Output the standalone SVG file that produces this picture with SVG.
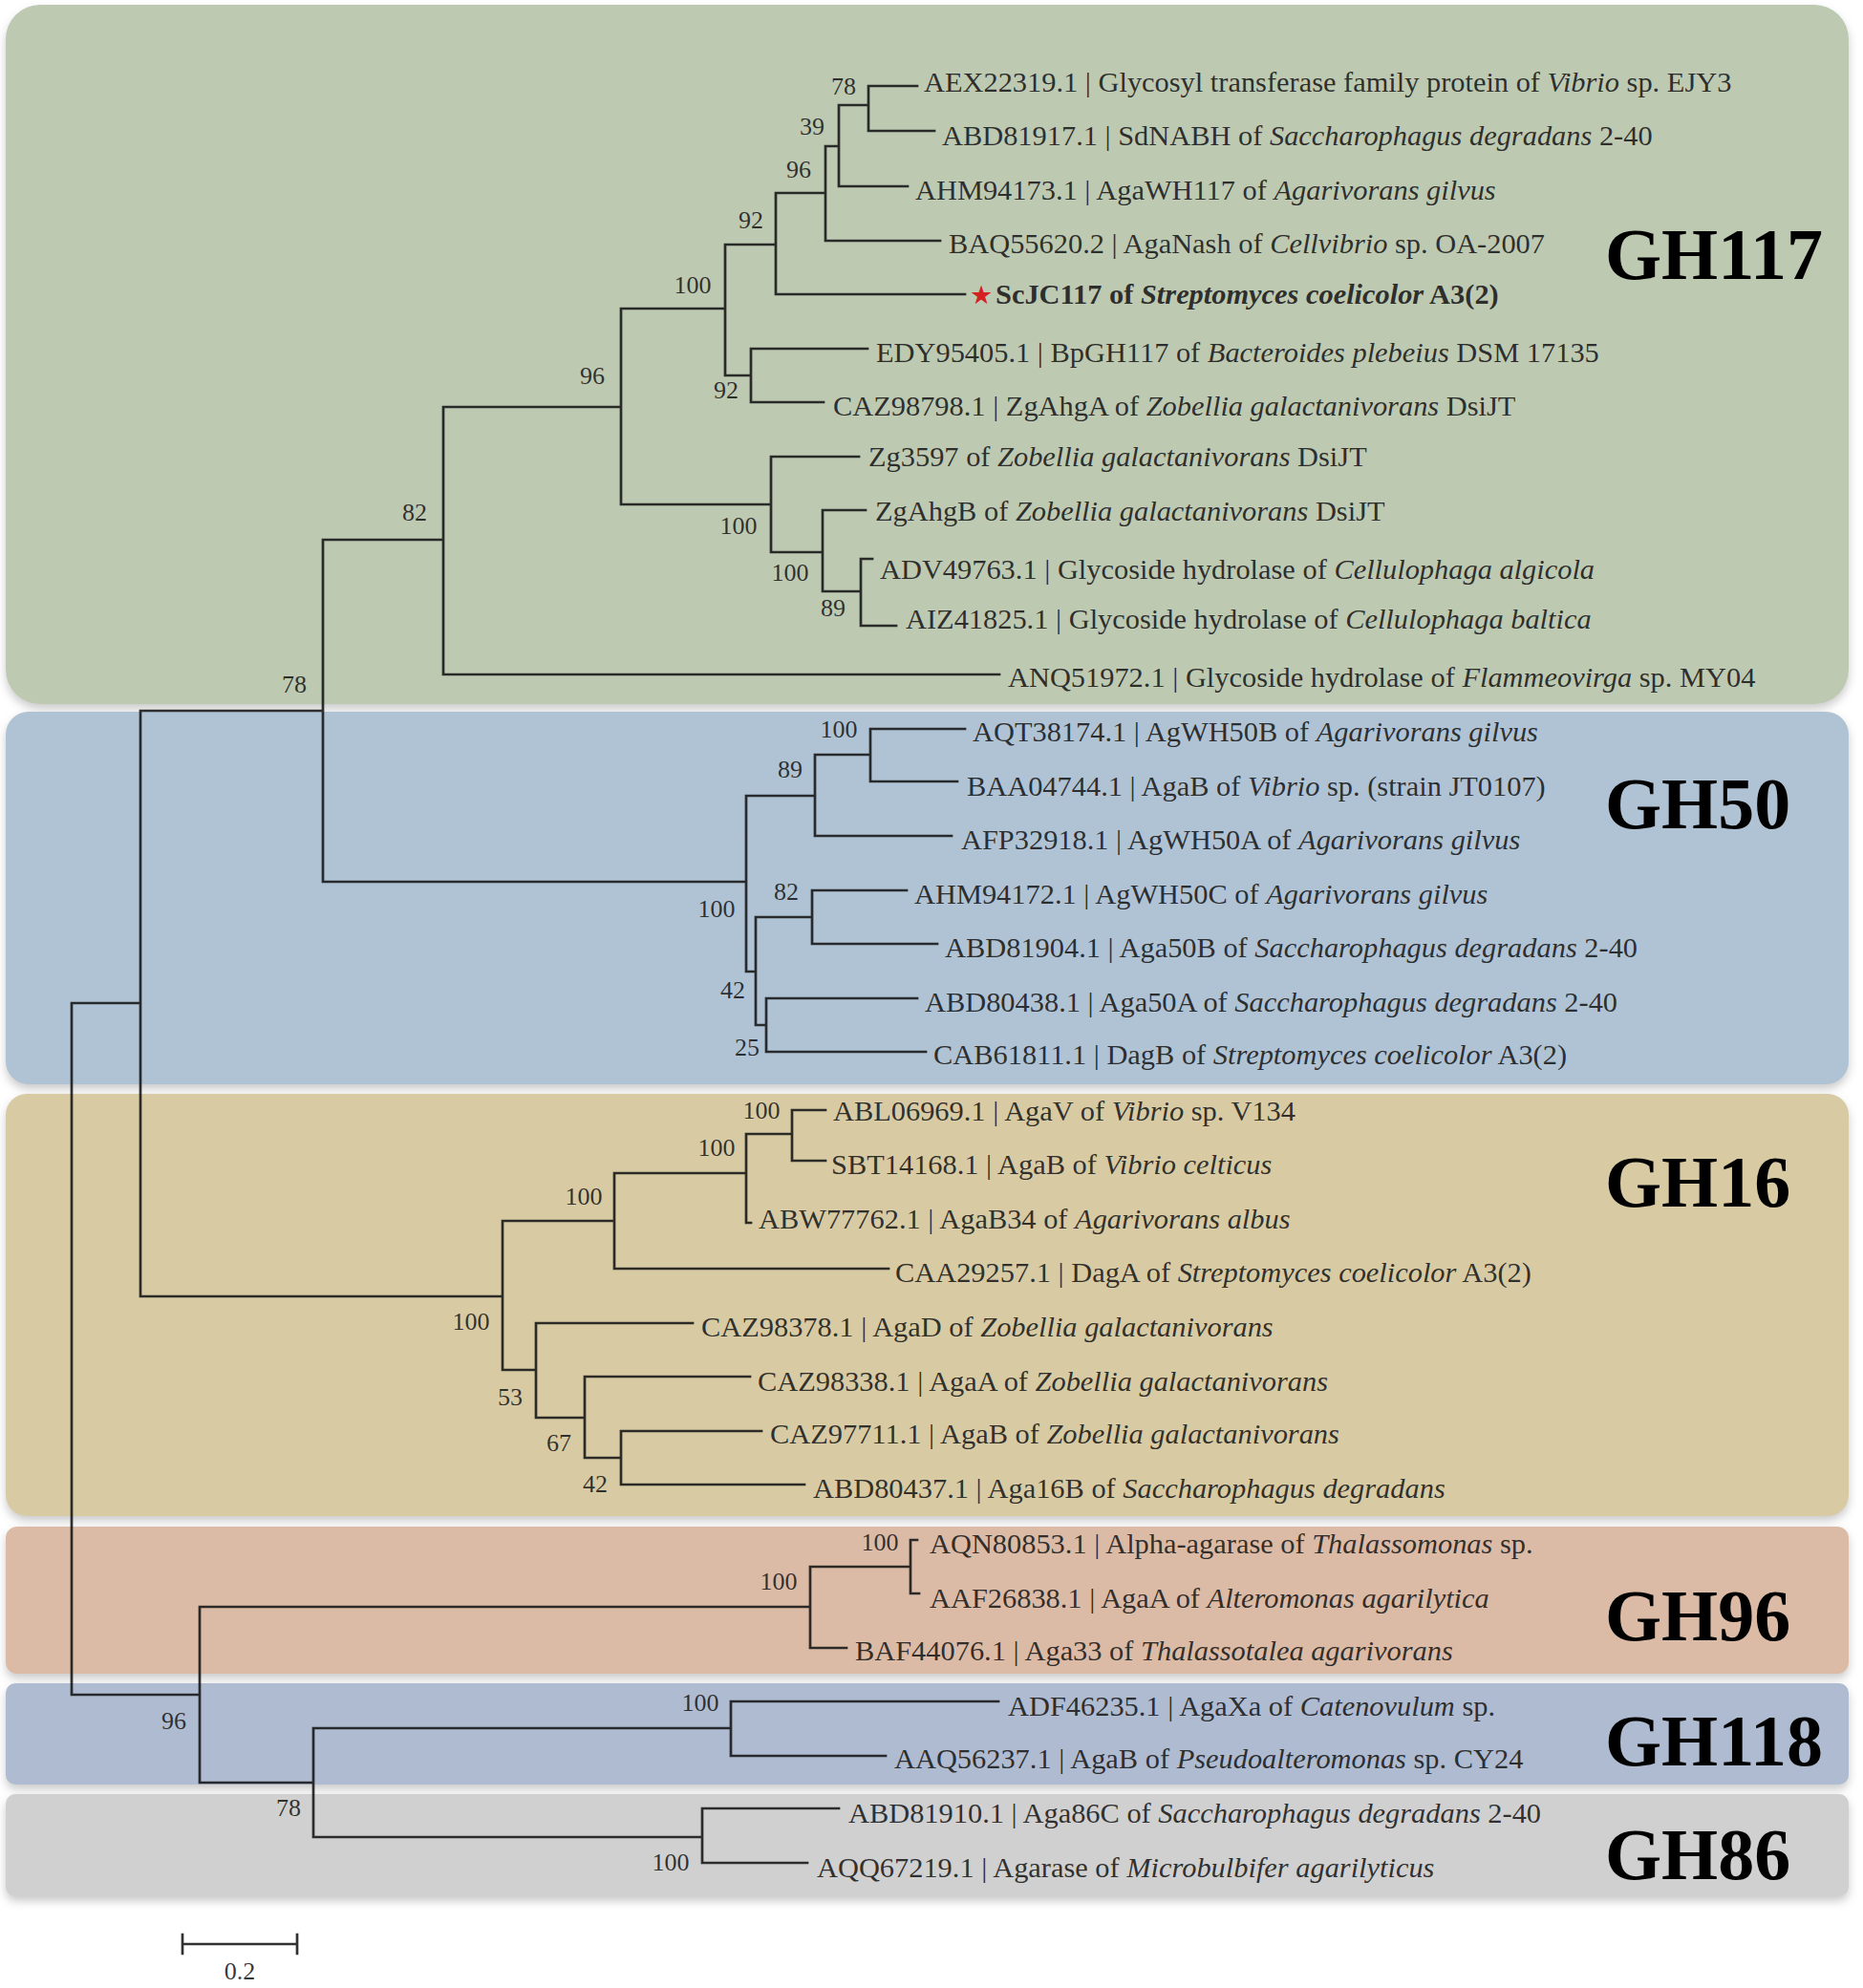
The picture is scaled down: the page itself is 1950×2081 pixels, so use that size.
<svg xmlns="http://www.w3.org/2000/svg" width="1950" height="2081" viewBox="0 0 1950 2081">
<style>
.lf{font-family:"Liberation Serif","Times New Roman",serif;font-size:30.4px;fill:#1a1a1a;fill-opacity:0.9}
.it{font-style:italic}
.bs{font-family:"Liberation Serif","Times New Roman",serif;font-size:26px;fill:#1a1a1a;fill-opacity:0.88;text-anchor:middle}
.gh{font-family:"Liberation Serif","Times New Roman",serif;font-size:76px;font-weight:bold;fill:#000}
.br{fill:none;stroke:#141414;stroke-opacity:0.88;stroke-width:2.7;stroke-linecap:square}
.box{filter:url(#sh)}
</style>
<defs>
<filter id="sh" x="-5%" y="-10%" width="110%" height="130%">
<feDropShadow dx="0" dy="5" stdDeviation="5" flood-color="#8a8a8a" flood-opacity="0.45"/>
</filter>
</defs>
<rect width="1950" height="2081" fill="#ffffff"/>

<g id="clades">
<rect class="box" x="6" y="5" width="1929" height="732" rx="36" fill="#bec9b2"/>
<rect class="box" x="6" y="745" width="1929" height="390" rx="24" fill="#b0c3d5"/>
<rect class="box" x="6" y="1145" width="1929" height="442" rx="22" fill="#d8cba4"/>
<rect class="box" x="6" y="1598" width="1929" height="154" rx="12" fill="#dcbba6"/>
<rect class="box" x="6" y="1762" width="1929" height="106" rx="10" fill="#afbbd0"/>
<rect class="box" x="6" y="1878" width="1929" height="107" rx="10" fill="#d0d0d0"/>
<text class="gh" x="1680" y="292">GH117</text>
<text class="gh" x="1680" y="867">GH50</text>
<text class="gh" x="1680" y="1263">GH16</text>
<text class="gh" x="1680" y="1717">GH96</text>
<text class="gh" x="1680" y="1848">GH118</text>
<text class="gh" x="1680" y="1967">GH86</text>
</g>

<g id="connectors">
<path class="br" d="
M909 90 V137 M909 90 H960 M909 137 H978
M878 110 V195 M878 110 H909 M878 195 H950
M864 153 V252 M864 153 H878 M864 252 H984
M812 202 V308 M812 202 H864 M812 308 H1010
M759 256 V393 M759 256 H812
M786 365 V421 M759 393 H786 M786 365 H908 M786 421 H862
M650 323 V528 M650 323 H759
M807 478 V578 M650 528 H807 M807 478 H899
M861 534 V619 M807 578 H861 M861 534 H906
M901 585 V655 M861 619 H901 M901 585 H913 M901 655 H938
M464 426 V706 M464 426 H650 M464 706 H1046
M338 565 V923 M338 565 H464
M781 833 V1017 M338 923 H781
M853 790 V875 M781 833 H853 M853 875 H996
M911 763 V818 M853 790 H911 M911 763 H1010 M911 818 H1002
M791 960 V1073 M781 1017 H791
M850 932 V988 M791 960 H850 M850 932 H949 M850 988 H981
M802 1045 V1101 M791 1073 H802 M802 1045 H960 M802 1101 H969
M147 744 V1357 M147 744 H338
M75 1050 V1774 M75 1050 H147
M526 1278 V1434 M147 1357 H526
M643 1228 V1328 M526 1278 H643 M643 1328 H930
M781 1187 V1280 M643 1228 H781 M781 1280 H786
M829 1162 V1215 M781 1187 H829 M829 1162 H864 M829 1215 H864
M561 1385 V1484 M526 1434 H561 M561 1385 H725
M612 1441 V1526 M561 1484 H612 M612 1441 H785
M650 1498 V1554 M612 1526 H650 M650 1498 H797 M650 1554 H842
M209 1682 V1866 M75 1774 H209
M848 1640 V1725 M209 1682 H848 M848 1725 H886
M953 1612 V1668 M848 1640 H953 M953 1612 H960 M953 1668 H962
M328 1809 V1923 M209 1866 H328
M765 1781 V1838 M328 1809 H765 M765 1781 H1045 M765 1838 H927
M735 1893 V1950 M328 1923 H735 M735 1893 H878 M735 1950 H845
"/>
</g>

<g id="scale">
<path class="br" d="M191 2035 H311 M191 2025 V2045 M311 2025 V2045"/>
<text class="bs" x="251" y="2072">0.2</text>
</g>

<g id="leaves">
<g id="AEX22319"><text class="lf" x="967" y="96">AEX22319.1 | Glycosyl transferase family protein of <tspan class="it">Vibrio</tspan> sp. EJY3</text></g>
<g id="ABD81917"><text class="lf" x="986" y="152">ABD81917.1 | SdNABH of <tspan class="it">Saccharophagus degradans</tspan> 2-40</text></g>
<g id="AHM94173"><text class="lf" x="958" y="209">AHM94173.1 | AgaWH117 of <tspan class="it">Agarivorans gilvus</tspan></text></g>
<g id="BAQ55620"><text class="lf" x="993" y="265">BAQ55620.2 | AgaNash of <tspan class="it">Cellvibrio</tspan> sp. OA-2007</text></g>
<g id="ScJC117"><text x="1015" y="318" font-family="DejaVu Sans,sans-serif" font-size="27" fill="#d42020">★</text><text class="lf" x="1042" y="318" font-weight="bold">ScJC117 of <tspan class="it">Streptomyces coelicolor</tspan> A3(2)</text></g>
<g id="EDY95405"><text class="lf" x="917" y="379">EDY95405.1 | BpGH117 of <tspan class="it">Bacteroides plebeius</tspan> DSM 17135</text></g>
<g id="CAZ98798"><text class="lf" x="872" y="435">CAZ98798.1 | ZgAhgA of <tspan class="it">Zobellia galactanivorans</tspan> DsiJT</text></g>
<g id="Zg3597"><text class="lf" x="909" y="488">Zg3597 of <tspan class="it">Zobellia galactanivorans</tspan> DsiJT</text></g>
<g id="ZgAhgB"><text class="lf" x="916" y="545">ZgAhgB of <tspan class="it">Zobellia galactanivorans</tspan> DsiJT</text></g>
<g id="ADV49763"><text class="lf" x="921" y="606">ADV49763.1 | Glycoside hydrolase of <tspan class="it">Cellulophaga algicola</tspan></text></g>
<g id="AIZ41825"><text class="lf" x="948" y="658">AIZ41825.1 | Glycoside hydrolase of <tspan class="it">Cellulophaga baltica</tspan></text></g>
<g id="ANQ51972"><text class="lf" x="1055" y="719">ANQ51972.1 | Glycoside hydrolase of <tspan class="it">Flammeovirga</tspan> sp. MY04</text></g>
<g id="AQT38174"><text class="lf" x="1018" y="776">AQT38174.1 | AgWH50B of <tspan class="it">Agarivorans gilvus</tspan></text></g>
<g id="BAA04744"><text class="lf" x="1012" y="833">BAA04744.1 | AgaB of <tspan class="it">Vibrio</tspan> sp. (strain JT0107)</text></g>
<g id="AFP32918"><text class="lf" x="1006" y="889">AFP32918.1 | AgWH50A of <tspan class="it">Agarivorans gilvus</tspan></text></g>
<g id="AHM94172"><text class="lf" x="957" y="946">AHM94172.1 | AgWH50C of <tspan class="it">Agarivorans gilvus</tspan></text></g>
<g id="ABD81904"><text class="lf" x="989" y="1002">ABD81904.1 | Aga50B of <tspan class="it">Saccharophagus degradans</tspan> 2-40</text></g>
<g id="ABD80438"><text class="lf" x="968" y="1059">ABD80438.1 | Aga50A of <tspan class="it">Saccharophagus degradans</tspan> 2-40</text></g>
<g id="CAB61811"><text class="lf" x="977" y="1114">CAB61811.1 | DagB of <tspan class="it">Streptomyces coelicolor</tspan> A3(2)</text></g>
<g id="ABL06969"><text class="lf" x="872" y="1173">ABL06969.1 | AgaV of <tspan class="it">Vibrio</tspan> sp. V134</text></g>
<g id="SBT14168"><text class="lf" x="870" y="1229">SBT14168.1 | AgaB of <tspan class="it">Vibrio celticus</tspan></text></g>
<g id="ABW77762"><text class="lf" x="794" y="1286">ABW77762.1 | AgaB34 of <tspan class="it">Agarivorans albus</tspan></text></g>
<g id="CAA29257"><text class="lf" x="937" y="1342">CAA29257.1 | DagA of <tspan class="it">Streptomyces coelicolor</tspan> A3(2)</text></g>
<g id="CAZ98378"><text class="lf" x="734" y="1399">CAZ98378.1 | AgaD of <tspan class="it">Zobellia galactanivorans</tspan></text></g>
<g id="CAZ98338"><text class="lf" x="793" y="1456">CAZ98338.1 | AgaA of <tspan class="it">Zobellia galactanivorans</tspan></text></g>
<g id="CAZ97711"><text class="lf" x="806" y="1511">CAZ97711.1 | AgaB of <tspan class="it">Zobellia galactanivorans</tspan></text></g>
<g id="ABD80437"><text class="lf" x="851" y="1568">ABD80437.1 | Aga16B of <tspan class="it">Saccharophagus degradans</tspan></text></g>
<g id="AQN80853"><text class="lf" x="973" y="1626">AQN80853.1 | Alpha-agarase of <tspan class="it">Thalassomonas</tspan> sp.</text></g>
<g id="AAF26838"><text class="lf" x="973" y="1683">AAF26838.1 | AgaA of <tspan class="it">Alteromonas agarilytica</tspan></text></g>
<g id="BAF44076"><text class="lf" x="895" y="1738">BAF44076.1 | Aga33 of <tspan class="it">Thalassotalea agarivorans</tspan></text></g>
<g id="ADF46235"><text class="lf" x="1055" y="1796">ADF46235.1 | AgaXa of <tspan class="it">Catenovulum</tspan> sp.</text></g>
<g id="AAQ56237"><text class="lf" x="936" y="1851">AAQ56237.1 | AgaB of <tspan class="it">Pseudoalteromonas</tspan> sp. CY24</text></g>
<g id="ABD81910"><text class="lf" x="888" y="1908">ABD81910.1 | Aga86C of <tspan class="it">Saccharophagus degradans</tspan> 2-40</text></g>
<g id="AQQ67219"><text class="lf" x="855" y="1965">AQQ67219.1 | Agarase of <tspan class="it">Microbulbifer agarilyticus</tspan></text></g>
</g>

<g id="bootstrap">
<g id="n1"><text class="bs" x="883" y="99">78</text></g>
<g id="n2"><text class="bs" x="850" y="141">39</text></g>
<g id="n3"><text class="bs" x="836" y="186">96</text></g>
<g id="n4"><text class="bs" x="786" y="239">92</text></g>
<g id="n5"><text class="bs" x="725" y="307">100</text></g>
<g id="n6"><text class="bs" x="620" y="402">96</text></g>
<g id="n7"><text class="bs" x="760" y="417">92</text></g>
<g id="n8"><text class="bs" x="773" y="559">100</text></g>
<g id="n9"><text class="bs" x="827" y="608">100</text></g>
<g id="n10"><text class="bs" x="872" y="645">89</text></g>
<g id="n11"><text class="bs" x="434" y="545">82</text></g>
<g id="n12"><text class="bs" x="308" y="725">78</text></g>
<g id="n13"><text class="bs" x="878" y="772">100</text></g>
<g id="n14"><text class="bs" x="827" y="814">89</text></g>
<g id="n15"><text class="bs" x="750" y="960">100</text></g>
<g id="n16"><text class="bs" x="823" y="942">82</text></g>
<g id="n17"><text class="bs" x="767" y="1045">42</text></g>
<g id="n18"><text class="bs" x="782" y="1105">25</text></g>
<g id="n19"><text class="bs" x="797" y="1171">100</text></g>
<g id="n20"><text class="bs" x="750" y="1210">100</text></g>
<g id="n21"><text class="bs" x="611" y="1261">100</text></g>
<g id="n22"><text class="bs" x="493" y="1392">100</text></g>
<g id="n23"><text class="bs" x="534" y="1471">53</text></g>
<g id="n24"><text class="bs" x="585" y="1519">67</text></g>
<g id="n25"><text class="bs" x="623" y="1562">42</text></g>
<g id="n26"><text class="bs" x="921" y="1623">100</text></g>
<g id="n27"><text class="bs" x="815" y="1664">100</text></g>
<g id="n28"><text class="bs" x="182" y="1810">96</text></g>
<g id="n29"><text class="bs" x="733" y="1791">100</text></g>
<g id="n30"><text class="bs" x="302" y="1901">78</text></g>
<g id="n31"><text class="bs" x="702" y="1958">100</text></g>
</g>
</svg>
